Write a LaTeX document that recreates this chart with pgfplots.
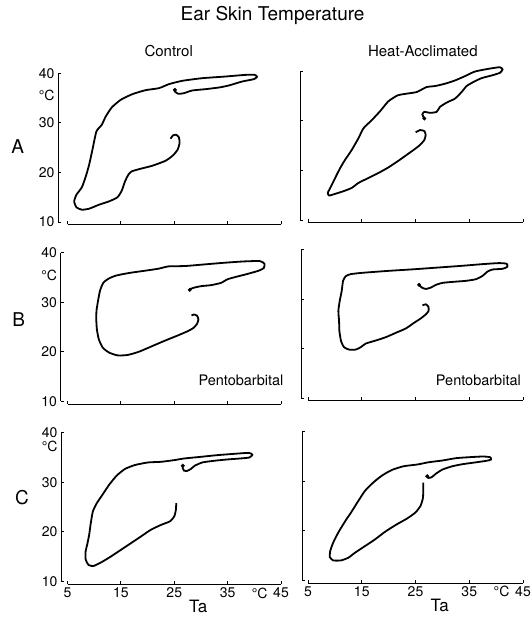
\documentclass[border=0pt]{standalone}
\usepackage{fontspec}
\setmainfont{TeX Gyre Heros}
\usepackage{pgfplots}
\pgfplotsset{compat=1.18}
\pgfplotsset{
  panel/.style={
    anchor=south west,
    y=4.96pt,
    xmin=5, xmax=45, ymin=10, ymax=40,
    axis x line=bottom, axis y line=left,
    axis line style={-, line width=0.9pt, black},
    tick align=inside,
    xtick={5,15,25,35,45}, ytick={10,20,30,40},
    major tick length=3pt,
    tick style={line width=0.8pt, black},
    clip=false,
    /pgf/number format/assume math mode=true,
    ticklabel style={font=\fontsize{14}{14}\selectfont},
  },
  leftcol/.style={x=5.3375pt, extra y tick style={tick style={draw=none}}, extra y tick labels={°C}},
  rightcol/.style={x=5.375pt, yticklabels={}},
  toprow/.style={xticklabels={}},
  bottomrow/.style={
    extra x ticks={41}, extra x tick labels={°C},
    extra x tick style={tick style={draw=none}},
    xlabel={Ta},
    xlabel style={at={(ticklabel cs:0.6125)}, anchor=north, font=\fontsize{17}{17}\selectfont, inner sep=0pt, yshift=2pt},
  },
  curve/.style={line width=1.8pt, black, smooth, tension=0.35},
  dot/.style={only marks, mark=*, mark size=1.8pt, black},
}
\begin{document}
\begin{tikzpicture}
\useasboundingbox (0,0) rectangle (531pt,617pt);
% titles
\node[font=\fontsize{19}{19}\selectfont] at (272.6pt,602pt) {Ear Skin Temperature};
\node[font=\fontsize{15}{15}\selectfont] at (168.7pt,566pt) {Control};
\node[font=\fontsize{15}{15}\selectfont] at (422.8pt,566pt) {Heat-Acclimated};
\node[font=\fontsize{19}{19}\selectfont] at (17.7pt,470.3pt) {A};
\node[font=\fontsize{19}{19}\selectfont] at (18.7pt,297pt) {B};
\node[font=\fontsize{19}{19}\selectfont] at (22pt,119.7pt) {C};

% ---------- A left
\begin{axis}[panel, leftcol, toprow, at={(67.5pt,395pt)},
  axis x line shift=2.5pt, axis y line shift=9.5pt, extra y ticks={35.5}]
\addplot[curve] coordinates {
(24.31,26.78) (24.75,27.45) (25.37,27.58) (25.87,27.05) (26.0,25.9) (25.62,24.56) (24.75,23.42) (23.38,22.35) (20.89,21.34) (18.71,20.74) (17.02,20.2) (16.40,19.53) (15.78,18.19) (15.16,16.31) (14.35,14.97) (12.79,14.16) (10.92,13.49) (9.05,12.68) (7.68,12.48) (6.68,12.95) (6.25,14.16) (6.68,15.5) (7.68,16.98) (8.43,19.19) (9.05,21.54) (9.67,24.56) (10.42,28.26) (11.42,29.6) (12.17,31.28) (13.29,33.09) (14.97,34.63) (17.15,35.77) (19.64,36.58) (22.13,36.98) (24.0,37.79) (26.5,38.46) (30.23,38.99) (34.6,39.33) (38.33,39.66) (40.08,39.66) (40.51,39.26) (39.89,38.79) (37.71,38.32) (35.22,37.52) (33.35,37.11) (30.86,36.78) (28.36,36.51) (26.81,35.97) (25.75,35.84) (25.12,36.31) (25.12,36.64)
};
\addplot[dot] coordinates {(25.12,36.64)};
\end{axis}

% ---------- A right
\begin{axis}[panel, rightcol, toprow, at={(308pt,397pt)},
  axis x line shift=2.5pt, axis y line shift=8pt]
\addplot[curve] coordinates {
(25.03,27.67) (25.84,28.13) (26.64,27.93) (26.89,27.13) (26.64,26.13) (25.84,25.13) (24.91,24.33) (23.36,23.13) (21.81,21.93) (19.95,20.6) (18.10,19.47) (16.24,18.47) (14.38,17.47) (13.14,16.47) (11.59,15.8) (10.05,15.27) (8.93,14.93) (8.68,15.47) (9.30,16.8) (10.05,18.47) (10.98,20.47) (11.90,22.13) (13.14,24.13) (14.38,26.47) (15.31,28.47) (16.86,30.13) (18.41,31.93) (19.95,33.93) (21.69,35.13) (23.36,35.47) (25.22,35.8) (27.07,36.8) (28.62,37.0) (30.48,37.47) (32.34,38.13) (34.2,39.0) (36.05,39.93) (38.53,40.47) (40.70,40.8) (41.19,40.33) (40.70,39.67) (39.15,39.13) (37.29,38.6) (35.74,37.8) (34.5,37.0) (33.58,35.8) (32.34,34.47) (30.79,33.67) (29.55,32.8) (28.93,31.8) (27.69,31.6) (26.64,31.8) (26.27,31.27) (26.64,30.47)
};
\addplot[dot] coordinates {(26.64,30.47)};
\end{axis}

% ---------- B left
\begin{axis}[panel, leftcol, toprow, at={(67.5pt,215.5pt)},
  axis x line shift=2.5pt, axis y line shift=7pt, extra y ticks={35.5}]
\addplot[curve] coordinates {
(28.23,27.34) (28.72,27.54) (29.28,27.28) (29.52,26.54) (29.28,25.68) (28.66,24.88) (27.62,24.22) (25.77,23.36) (23.31,22.29) (20.85,21.16) (18.38,20.03) (16.23,19.37) (14.38,19.3) (12.85,19.83) (11.62,20.83) (10.88,22.49) (10.51,24.49) (10.38,26.81) (10.45,28.47) (10.75,30.47) (11.12,32.46) (11.74,33.99) (12.72,34.78) (14.08,35.38) (16.54,35.91) (19.62,36.38) (22.08,36.78) (23.92,37.24) (27.0,37.31) (30.69,37.64) (34.38,37.97) (38.08,38.24) (41.03,38.31) (41.89,37.77) (41.77,36.91) (40.85,36.38) (38.69,35.71) (36.54,35.12) (35.0,34.65) (33.77,33.92) (31.92,33.46) (30.08,33.26) (28.85,32.99) (28.11,32.72) (27.92,32.52)
};
\addplot[dot] coordinates {(27.92,32.52)};
\node[font=\fontsize{14.5}{14.5}\selectfont] at (axis cs:37.5,14.3) {Pentobarbital};
\end{axis}

% ---------- B right
\begin{axis}[panel, rightcol, toprow, at={(308pt,218.5pt)},
  axis x line shift=1.5pt, axis y line shift=7pt]
\addplot[curve] coordinates {
(26.30,28.78) (26.93,28.99) (27.42,28.45) (27.42,27.64) (26.93,26.96) (25.99,26.15) (24.75,25.27) (23.20,24.12) (21.34,23.24) (19.47,22.36) (17.61,21.69) (15.75,21.08) (14.81,20.34) (13.88,19.86) (12.64,19.86) (11.71,20.34) (11.15,21.55) (10.84,23.58) (10.78,25.61) (10.65,27.64) (10.90,29.66) (11.27,31.69) (11.52,33.72) (12.02,34.66) (12.95,35.07) (15.12,35.34) (20.09,35.74) (25.06,36.08) (29.41,36.42) (33.76,36.76) (37.48,37.09) (40.59,37.30) (41.96,37.16) (42.08,36.55) (41.21,36.15) (39.35,36.01) (38.42,35.61) (37.48,34.73) (36.24,34.05) (34.38,33.72) (31.89,33.51) (30.03,33.31) (28.79,32.91) (27.86,32.36) (26.93,32.09) (26.18,32.36) (25.68,32.91)
};
\addplot[dot] coordinates {(25.68,32.91)};
\node[font=\fontsize{14.5}{14.5}\selectfont] at (axis cs:36.7,13.7) {Pentobarbital};
\end{axis}

% ---------- C left
\begin{axis}[panel, leftcol, bottomrow, at={(67.5pt,35.5pt)},
  axis x line shift=3pt, axis y line shift=6.5pt, extra y ticks={37.2}]
\addplot[curve] coordinates {
(25.37,25.8) (25.31,24.47) (25.0,23.13) (24.2,22.13) (22.65,21.47) (20.68,20.47) (18.83,19.13) (16.98,17.8) (15.12,16.47) (13.27,15.13) (11.42,13.93) (9.88,13.13) (8.95,13.33) (8.40,14.47) (8.40,16.13) (8.70,17.47) (9.07,19.47) (9.32,21.47) (9.75,24.13) (10.49,25.8) (11.54,27.47) (12.78,29.47) (14.20,31.33) (15.74,32.67) (17.59,33.47) (20.06,34.0) (22.53,34.13) (25.0,34.47) (26.85,34.8) (29.94,35.13) (33.02,35.47) (36.11,35.73) (39.01,35.93) (39.63,35.53) (39.07,35.0) (37.35,34.8) (34.88,34.6) (32.41,34.33) (30.25,34.0) (28.83,33.33) (28.09,32.67) (27.35,32.27) (26.85,32.33) (26.60,32.8) (26.60,33.33)
};
\addplot[dot] coordinates {(26.60,33.33)};
\end{axis}

% ---------- C right
\begin{axis}[panel, rightcol, bottomrow, at={(308pt,36.5pt)},
  axis x line shift=2.5pt, axis y line shift=6pt]
\addplot[curve] coordinates {
(26.44,29.73) (26.44,28.11) (26.38,26.62) (25.94,25.07) (25.0,23.72) (23.44,22.5) (21.56,21.35) (19.38,19.86) (17.5,18.31) (15.63,16.96) (13.75,15.61) (12.5,14.59) (11.13,14.05) (9.69,14.05) (9.06,14.73) (9.13,15.95) (9.69,17.64) (10.63,19.66) (11.88,21.89) (13.13,23.92) (14.38,26.08) (15.63,28.11) (17.19,29.8) (18.75,31.15) (20.63,32.3) (22.81,33.04) (25.31,33.38) (27.5,33.85) (30.0,34.19) (32.5,34.66) (35.0,34.86) (37.5,35.0) (38.88,34.86) (39.06,34.39) (38.13,34.12) (35.94,33.78) (33.75,33.45) (31.88,33.04) (30.0,32.36) (28.75,31.49) (28.0,30.81) (27.38,30.68) (27.19,31.01)
};
\addplot[dot] coordinates {(27.19,31.01)};
\end{axis}
\end{tikzpicture}
\end{document}
